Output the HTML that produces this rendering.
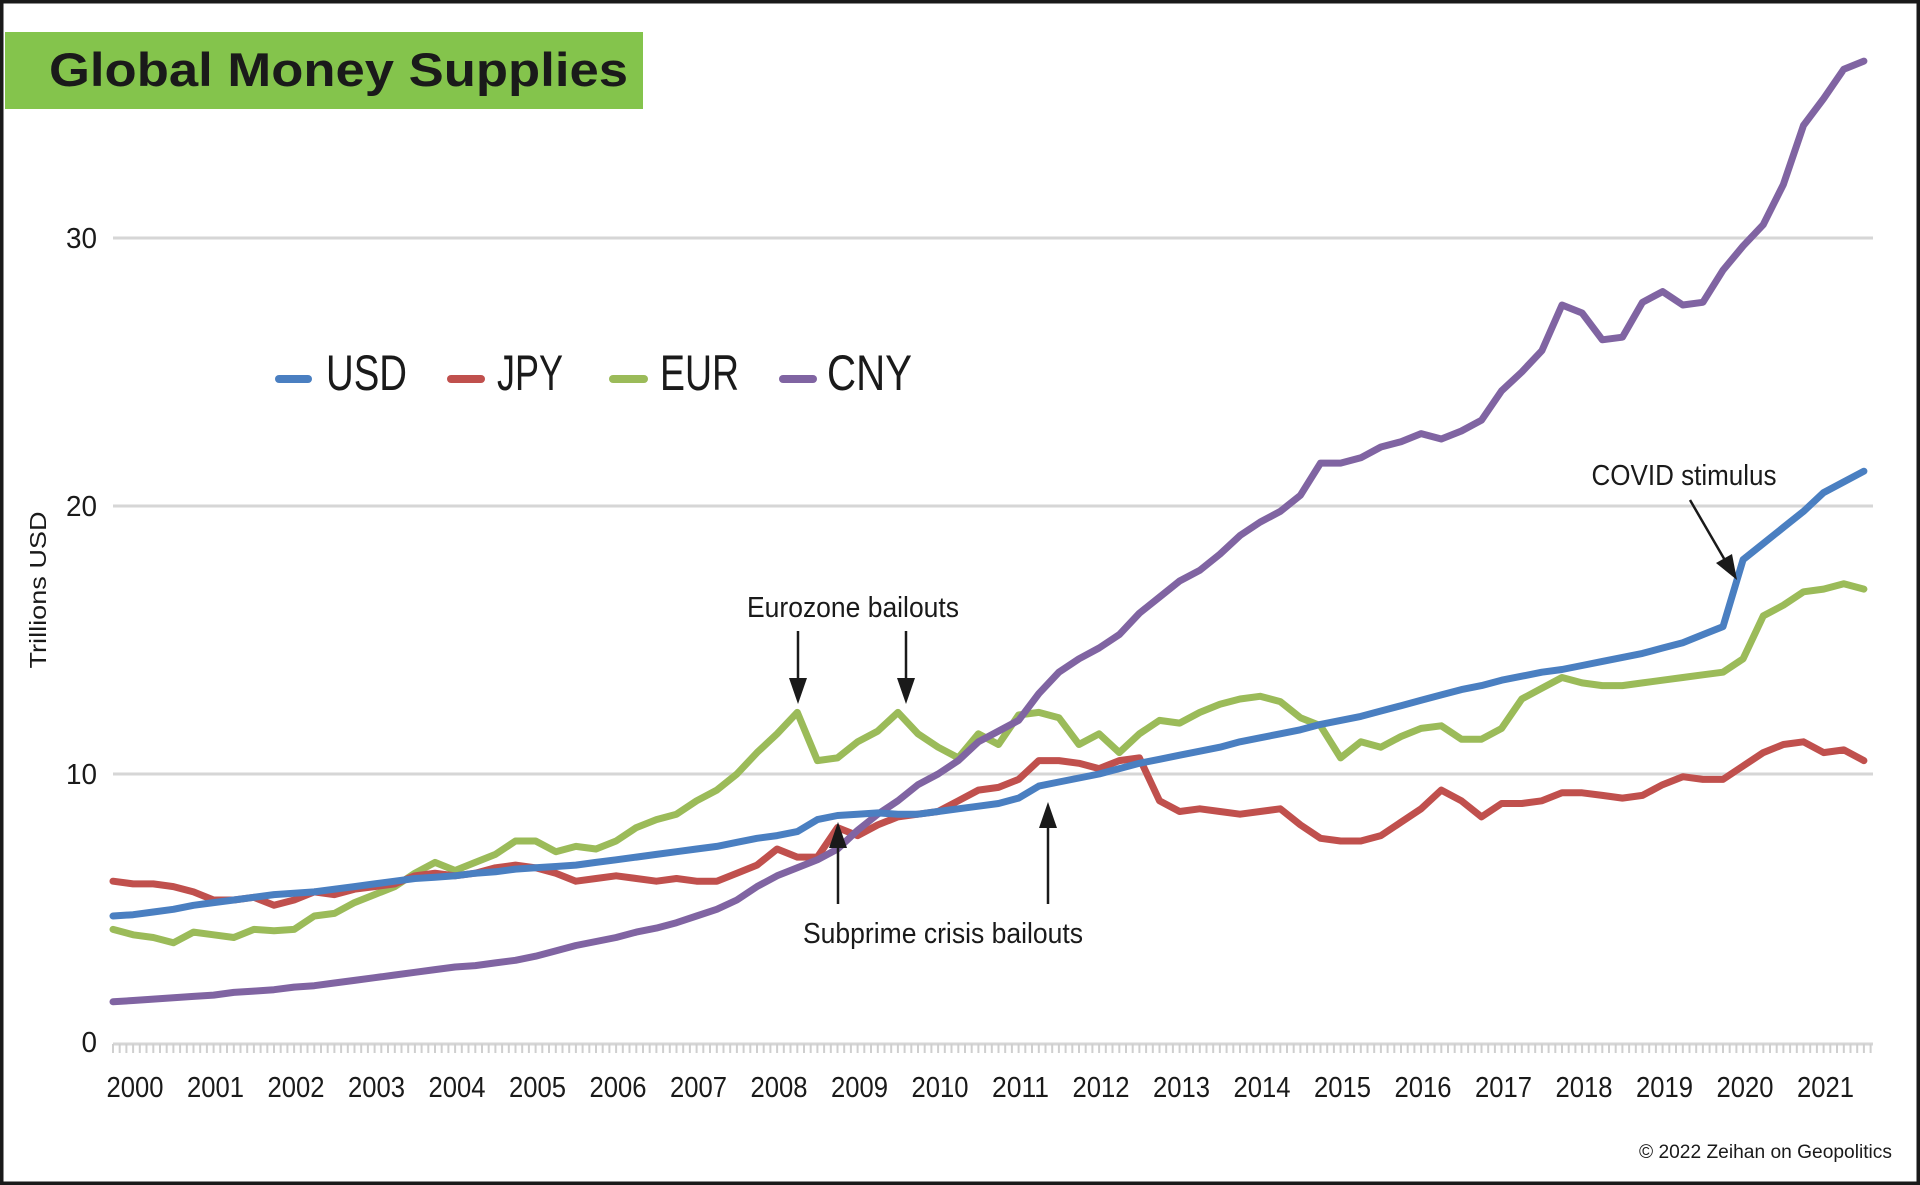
<!DOCTYPE html>
<html><head><meta charset="utf-8"><title>Global Money Supplies</title>
<style>
html,body{margin:0;padding:0;background:#fff;}
svg{display:block;font-family:"Liberation Sans",sans-serif;}
</style></head>
<body>
<svg id="chart" width="1920" height="1185" viewBox="0 0 1920 1185" xmlns="http://www.w3.org/2000/svg">
  <rect x="0" y="0" width="1920" height="1185" fill="#fff"/>
  <rect x="5" y="32" width="638" height="77" fill="#84c44c"/>
  <text x="49" y="86" font-size="47" font-weight="bold" fill="#1a1a1a" textLength="579" lengthAdjust="spacingAndGlyphs">Global Money Supplies</text>

  <g id="grid"></g>
  <g id="yticks"></g>
  <g id="xaxis"></g>
  <text transform="translate(46,590) rotate(-90)" text-anchor="middle" font-size="23" fill="#1a1a1a" textLength="157" lengthAdjust="spacingAndGlyphs">Trillions USD</text>

  <g id="series"></g>

  <g>
    <g>
      <line x1="279" y1="379" x2="308" y2="379" stroke="#4a7fc1" stroke-width="8" stroke-linecap="round"/>
      <text x="326" y="390" font-size="50" fill="#1a1a1a" textLength="81" lengthAdjust="spacingAndGlyphs">USD</text>
    </g>
    <g>
      <line x1="451" y1="379" x2="481" y2="379" stroke="#c0504d" stroke-width="8" stroke-linecap="round"/>
      <text x="497" y="390" font-size="50" fill="#1a1a1a" textLength="66" lengthAdjust="spacingAndGlyphs">JPY</text>
    </g>
    <g>
      <line x1="613" y1="379" x2="644" y2="379" stroke="#9bbb59" stroke-width="8" stroke-linecap="round"/>
      <text x="660" y="390" font-size="50" fill="#1a1a1a" textLength="79" lengthAdjust="spacingAndGlyphs">EUR</text>
    </g>
    <g>
      <line x1="783" y1="379" x2="813" y2="379" stroke="#8064a2" stroke-width="8" stroke-linecap="round"/>
      <text x="827" y="390" font-size="50" fill="#1a1a1a" textLength="85" lengthAdjust="spacingAndGlyphs">CNY</text>
    </g>
  </g>

  <g fill="#1a1a1a">
    <text x="853" y="617" text-anchor="middle" font-size="29" textLength="212" lengthAdjust="spacingAndGlyphs">Eurozone bailouts</text>
    <g>
      <line x1="798" y1="631" x2="798" y2="685" stroke="#1a1a1a" stroke-width="2.5"/>
      <polygon points="789,678 807,678 798,704"/>
    </g>
    <g>
      <line x1="906" y1="631" x2="906" y2="685" stroke="#1a1a1a" stroke-width="2.5"/>
      <polygon points="897,678 915,678 906,704"/>
    </g>
    <text x="943" y="943" text-anchor="middle" font-size="29" textLength="280" lengthAdjust="spacingAndGlyphs">Subprime crisis bailouts</text>
    <g>
      <line x1="838" y1="904" x2="838" y2="840" stroke="#1a1a1a" stroke-width="2.5"/>
      <polygon points="829,848 847,848 838,822"/>
    </g>
    <g>
      <line x1="1048" y1="904" x2="1048" y2="820" stroke="#1a1a1a" stroke-width="2.5"/>
      <polygon points="1039,828 1057,828 1048,802"/>
    </g>
    <text x="1684" y="485" text-anchor="middle" font-size="29" textLength="185" lengthAdjust="spacingAndGlyphs">COVID stimulus</text>
    <g>
      <line x1="1690" y1="500" x2="1726" y2="562" stroke="#1a1a1a" stroke-width="2.5"/>
      <polygon points="1716,563 1732,554 1737,580"/>
    </g>
  </g>

  <text x="1892" y="1158" text-anchor="end" font-size="19" fill="#1a1a1a" textLength="253" lengthAdjust="spacingAndGlyphs">© 2022 Zeihan on Geopolitics</text>
  <rect x="1.5" y="1.5" width="1917" height="1182" fill="none" stroke="#1a1a1a" stroke-width="4"/>
</svg>
<script>
// Quarterly samples, 2000 Q1 .. 2021 Q4 (trillions USD)
const startYear = 2000;
const yearLabels = ["2000","2001","2002","2003","2004","2005","2006","2007","2008","2009","2010","2011","2012","2013","2014","2015","2016","2017","2018","2019","2020","2021"];
const yTickValues = [0, 10, 20, 30];
const seriesNames = ["USD","JPY","EUR","CNY"];
const usdValues = [
4.7,4.75,4.85,4.95, 5.1,5.2,5.3,5.4, 5.5,5.55,5.6,5.7, 5.8,5.9,6.0,6.1,
6.15,6.2,6.3,6.35, 6.45,6.5,6.55,6.6, 6.7,6.8,6.9,7.0, 7.1,7.2,7.3,7.45,
7.6,7.7,7.85,8.3, 8.45,8.5,8.55,8.5, 8.5,8.6,8.7,8.8, 8.9,9.1,9.55,9.7,
9.85,10.0,10.2,10.4, 10.55,10.7,10.85,11.0, 11.2,11.35,11.5,11.65, 11.85,12.0,12.15,12.35,
12.55,12.75,12.95,13.15, 13.3,13.5,13.65,13.8, 13.9,14.05,14.2,14.35, 14.5,14.7,14.9,15.2,
15.5,18.0,18.6,19.2, 19.8,20.5,20.9,21.3];
const jpyValues = [
6.0,5.9,5.9,5.8, 5.6,5.3,5.3,5.4, 5.1,5.3,5.6,5.5, 5.7,5.8,5.9,6.2,
6.3,6.2,6.3,6.5, 6.6,6.5,6.3,6.0, 6.1,6.2,6.1,6.0, 6.1,6.0,6.0,6.3,
6.6,7.2,6.9,6.9, 8.0,7.7,8.1,8.4, 8.5,8.6,9.0,9.4, 9.5,9.8,10.5,10.5,
10.4,10.2,10.5,10.6, 9.0,8.6,8.7,8.6, 8.5,8.6,8.7,8.1, 7.6,7.5,7.5,7.7,
8.2,8.7,9.4,9.0, 8.4,8.9,8.9,9.0, 9.3,9.3,9.2,9.1, 9.2,9.6,9.9,9.8,
9.8,10.3,10.8,11.1, 11.2,10.8,10.9,10.5];
const eurValues = [
4.2,4.0,3.9,3.7, 4.1,4.0,3.9,4.2, 4.15,4.2,4.7,4.8, 5.2,5.5,5.8,6.3,
6.7,6.4,6.7,7.0, 7.5,7.5,7.1,7.3, 7.2,7.5,8.0,8.3, 8.5,9.0,9.4,10.0,
10.8,11.5,12.3,10.5, 10.6,11.2,11.6,12.3, 11.5,11.0,10.6,11.5, 11.1,12.2,12.3,12.1,
11.1,11.5,10.8,11.5, 12.0,11.9,12.3,12.6, 12.8,12.9,12.7,12.1, 11.8,10.6,11.2,11.0,
11.4,11.7,11.8,11.3, 11.3,11.7,12.8,13.2, 13.6,13.4,13.3,13.3, 13.4,13.5,13.6,13.7,
13.8,14.3,15.9,16.3, 16.8,16.9,17.1,16.9];
const cnyValues = [
1.5,1.55,1.6,1.65, 1.7,1.75,1.85,1.9, 1.95,2.05,2.1,2.2, 2.3,2.4,2.5,2.6,
2.7,2.8,2.85,2.95, 3.05,3.2,3.4,3.6, 3.75,3.9,4.1,4.25, 4.45,4.7,4.95,5.3,
5.8,6.2,6.5,6.8, 7.2,7.9,8.5,9.0, 9.6,10.0,10.5,11.2, 11.6,12.0,13.0,13.8,
14.3,14.7,15.2,16.0, 16.6,17.2,17.6,18.2, 18.9,19.4,19.8,20.4, 21.6,21.6,21.8,22.2,
22.4,22.7,22.5,22.8, 23.2,24.3,25.0,25.8, 27.5,27.2,26.2,26.3, 27.6,28.0,27.5,27.6,
28.8,29.7,30.5,32.0, 34.2,35.2,36.3,36.6];

const NS = "http://www.w3.org/2000/svg";
const plotLeft = 113, yearWidth = 80.5, plotRight = 1873;
const y0 = 1042, pxPerUnit = 26.8;
function xScale(t){ return plotLeft + (t - startYear) * yearWidth; }
function yScale(v){ return y0 - v * pxPerUnit; }
function mk(tag){ return document.createElementNS(NS, tag); }

const grid = document.getElementById('grid');
const yt = document.getElementById('yticks');
yTickValues.forEach(v => {
  if (v > 0) {
    const l = mk('line');
    
    
    l.setAttribute('x1', plotLeft); l.setAttribute('x2', plotRight);
    l.setAttribute('y1', yScale(v)); l.setAttribute('y2', yScale(v));
    l.setAttribute('stroke', '#d6d6d6'); l.setAttribute('stroke-width', '3');
    grid.appendChild(l);
  }
  const t = mk('text');
  
  
  t.setAttribute('x', 97); t.setAttribute('y', yScale(v) + 10);
  t.setAttribute('text-anchor', 'end'); t.setAttribute('font-size', '29');
  t.setAttribute('fill', '#1a1a1a');
  t.setAttribute('textLength', String(v).length * 15.5);
  t.setAttribute('lengthAdjust', 'spacingAndGlyphs');
  t.textContent = v;
  yt.appendChild(t);
});

const xa = document.getElementById('xaxis');
const base = mk('line');


base.setAttribute('x1', plotLeft); base.setAttribute('x2', plotRight);
base.setAttribute('y1', y0 + 2); base.setAttribute('y2', y0 + 2);
base.setAttribute('stroke', '#d6d6d6'); base.setAttribute('stroke-width', '3');
xa.appendChild(base);
let tickD = '';
for (let m = 0; m <= yearLabels.length * 12; m++) {
  const x = xScale(startYear + m / 12);
  if (x > plotRight) break;
  tickD += 'M' + x.toFixed(1) + ' ' + (y0 + 2) + 'V' + (y0 + 11);
}
const ticks = mk('path');


ticks.setAttribute('d', tickD); ticks.setAttribute('stroke', '#cfcfcf'); ticks.setAttribute('stroke-width', '2');
xa.appendChild(ticks);
yearLabels.forEach((lab, i) => {
  const t = mk('text');
  
  
  t.setAttribute('x', xScale(startYear + i) + 22); t.setAttribute('y', 1097);
  t.setAttribute('text-anchor', 'middle'); t.setAttribute('font-size', '29');
  t.setAttribute('fill', '#1a1a1a');
  t.setAttribute('textLength', '57'); t.setAttribute('lengthAdjust', 'spacingAndGlyphs');
  t.textContent = lab;
  xa.appendChild(t);
});

const sg = document.getElementById('series');
const seriesData = [usdValues, jpyValues, eurValues, cnyValues];
const seriesColors = ['#4a7fc1', '#c0504d', '#9bbb59', '#8064a2'];
const drawOrder = [2, 1, 3, 0];
drawOrder.forEach(si => {
  const vals = seriesData[si];
  let d = '';
  vals.forEach((v, i) => {
    d += (i ? 'L' : 'M') + xScale(startYear + i / 4).toFixed(1) + ' ' + yScale(v).toFixed(1);
  });
  const p = mk('path');
  
  
  p.setAttribute('d', d); p.setAttribute('fill', 'none');
  p.setAttribute('stroke', seriesColors[si]); p.setAttribute('stroke-width', '7');
  p.setAttribute('stroke-linejoin', 'round'); p.setAttribute('stroke-linecap', 'round');
  sg.appendChild(p);
});
</script>
</body></html>
